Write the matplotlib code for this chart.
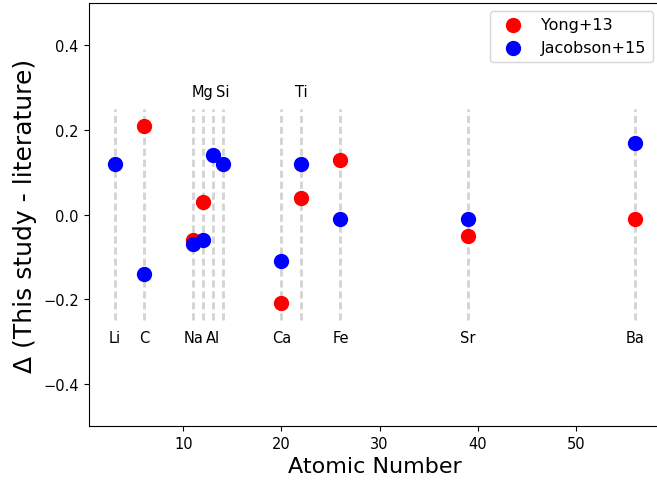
import matplotlib
matplotlib.use("Agg")
import matplotlib.pyplot as plt

# Element positions and labels
elements = ["Li", "C", "Na", "Mg", "Al", "Si", "Ca", "Ti", "Fe", "Sr", "Ba"]
atomic_numbers = [3, 6, 11, 12, 13, 14, 20, 22, 26, 39, 56]
label_on_top = [False, False, False, True, False, True, False, True, False, False, False]

# Yong+13 differences
yong_z = [6, 11, 12, 20, 22, 26, 39, 56]
yong_delta = [0.21, -0.06, 0.03, -0.21, 0.04, 0.13, -0.05, -0.01]

# Jacobson+15 differences
jac_z = [3, 6, 11, 12, 13, 14, 20, 22, 26, 39, 56]
jac_delta = [0.12, -0.14, -0.07, -0.06, 0.14, 0.12, -0.11, 0.12, -0.01, -0.01, 0.17]

fig = plt.figure(figsize=(6.57, 4.89), dpi=100)
W, H = 657, 489
ax = fig.add_axes([88.5 / W, (H - 427) / H, (661 - 88.5) / W, (427 - 4) / H])

for z, el, top in zip(atomic_numbers, elements, label_on_top):
    ax.plot([z, z], [-0.25, 0.25], ls=(0, (2.6, 1.35)), color="lightgray", lw=2, zorder=1)
    ax.text(z, 0.29 if top else -0.29, el, ha="center", va="center", fontsize=10.5)

ax.scatter(yong_z, yong_delta, s=100, color="red", label="Yong+13", zorder=3)
ax.scatter(jac_z, jac_delta, s=100, color="blue", label="Jacobson+15", zorder=3)

ax.set_ylim(-0.5, 0.5)
ax.set_xlim(0.35, 58.65)
ax.set_yticks([-0.4, -0.2, 0.0, 0.2, 0.4])
ax.set_xticks([10, 20, 30, 40, 50])
ax.tick_params(labelsize=10.5)
ax.set_xlabel("Atomic Number", fontsize=16)
ax.set_ylabel("Δ (This study - literature)", fontsize=18)
ax.legend(loc="upper right", fontsize=11.5)

fig.savefig("out.png", dpi=100)
